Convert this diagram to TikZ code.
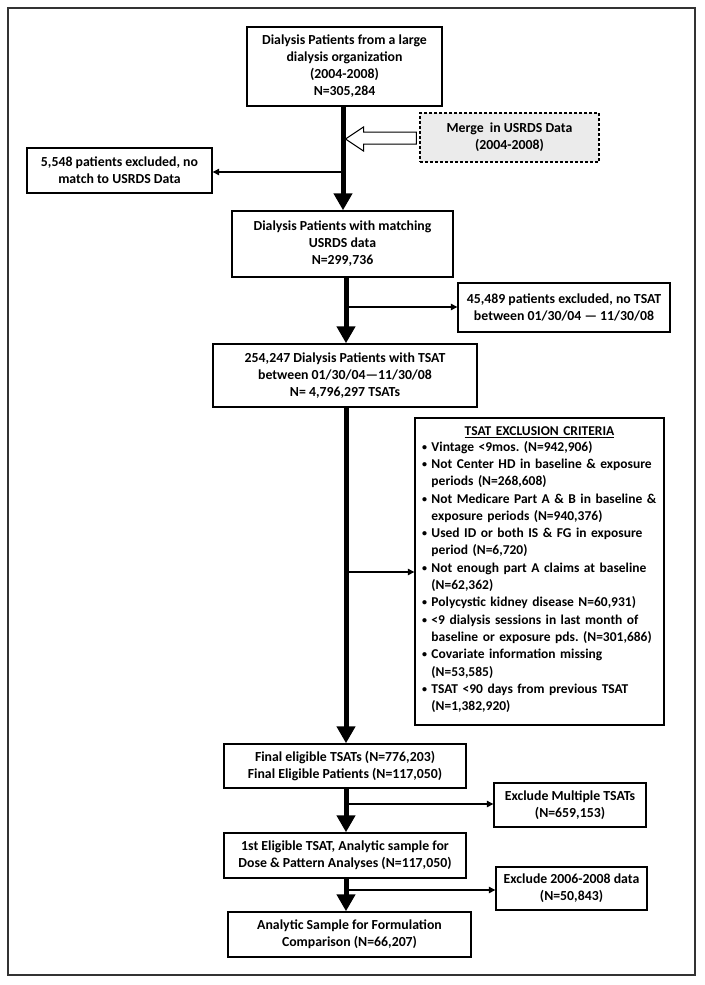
\documentclass[tikz,border=0pt]{standalone}
\usepackage{fontspec}
\setmainfont{Carlito}
\frenchspacing
\usetikzlibrary{arrows.meta,calc}
\newcommand{\bul}{\raisebox{0.15ex}{\fontsize{10}{10}\selectfont\textbullet}}
\tikzset{
  box/.style={draw, line width=1.4pt, align=center, inner sep=0pt, font=\bfseries\fontsize{13.8}{17}\selectfont},
  mergebox/.style={box, fill=black!8, dash pattern=on 3pt off 2pt, line width=1.2pt},
  shaft/.style={line width=5pt, -{Triangle[width=18pt,length=17pt]}},
  branch/.style={line width=1.2pt, -{Triangle[width=6.5pt,length=6.5pt]}},
  hollow/.style={draw, fill=white, line width=1pt, line join=miter},
}
\begin{document}
\begin{tikzpicture}[x=1pt,y=-1pt]
\useasboundingbox (0,0) rectangle (704,985);
\draw[black!80, line width=1.2pt] (8,8) rectangle (695,975);
% nodes
\node[box, minimum width=195pt, minimum height=79pt] (box1) at (344.5,66.5)
  {Dialysis Patients from a large\\dialysis organization\\(2004-2008)\\N=305,284};
\node[mergebox, minimum width=179pt, minimum height=49pt] (merge) at (509.5,137.5)
  {Merge\ \ in USRDS Data\\(2004-2008)};
\node[box, minimum width=185pt, minimum height=45pt] (exL) at (119.5,170.5)
  {5,548 patients excluded, no\\match to USRDS Data};
\node[box, minimum width=221pt, minimum height=66pt] (box2) at (342.5,244)
  {Dialysis Patients with matching\\USRDS data\\N=299,736};
\node[box, minimum width=212pt, minimum height=49pt] (ex2) at (564,307.5)
  {45,489 patients excluded, no TSAT\\between 01/30/04 — 11/30/08};
\node[box, minimum width=264pt, minimum height=63pt] (box3) at (345,375.5)
  {254,247 Dialysis Patients with TSAT\\between 01/30/04—11/30/08\\N= 4,796,297 TSATs};
\node[box, minimum width=249pt, minimum height=307pt, text width=243pt, align=left, font=\bfseries\fontsize{13.5}{17.3}\selectfont] (crit) at (539.5,571.5)
  {{\centering\underline{TSAT EXCLUSION CRITERIA}\par}\noindent
   \begin{tabular}{@{\hspace{4pt}}l@{\hspace{4.5pt}}l@{}}
   \bul & Vintage <9mos. (N=942,906)\\
   \bul & Not Center HD in baseline \& exposure\\
        & periods (N=268,608)\\
   \bul & Not Medicare Part A \& B in baseline \&\\
        & exposure periods (N=940,376)\\
   \bul & Used ID or both IS \& FG in exposure\\
        & period (N=6,720)\\
   \bul & Not enough part A claims at baseline\\
        & (N=62,362)\\
   \bul & Polycystic kidney disease N=60,931)\\
   \bul & <9 dialysis sessions in last month of\\
        & baseline or exposure pds. (N=301,686)\\
   \bul & Covariate information missing\\
        & (N=53,585)\\
   \bul & TSAT <90 days from previous TSAT\\
        & (N=1,382,920)
   \end{tabular}};
\node[box, minimum width=242pt, minimum height=44pt] (final) at (345,766)
  {Final eligible TSATs (N=776,203)\\Final Eligible Patients (N=117,050)};
\node[box, minimum width=152pt, minimum height=44pt] (exM) at (570,805)
  {Exclude Multiple TSATs\\(N=659,153)};
\node[box, minimum width=242pt, minimum height=45pt] (first) at (345,855.5)
  {1st Eligible TSAT, Analytic sample for\\Dose \& Pattern Analyses (N=117,050)};
\node[box, minimum width=151pt, minimum height=43pt] (ex3) at (571.5,888.5)
  {Exclude 2006-2008 data\\(N=50,843)};
\node[box, minimum width=243pt, minimum height=45pt] (anal) at (349.5,934.5)
  {Analytic Sample for Formulation\\Comparison (N=66,207)};
% shaft positions
\coordinate (s1) at (343,0);
\coordinate (s2) at (346,0);
% branch points
\coordinate (b1) at (343,172);
\coordinate (b2) at (346,307);
\coordinate (b3) at (346,572);
\coordinate (b4) at (346,804);
\coordinate (b5) at (346,890);
% branches (under shafts)
\draw[branch] (b1) -- (b1 -| exL.east);
\draw[branch] (b2) -- (b2 -| ex2.west);
\draw[branch] (b3) -- (b3 -| crit.west);
\draw[branch] (b4) -- (b4 -| exM.west);
\draw[branch] (b5) -- (b5 -| ex3.west);
% shafts
\draw[shaft] (box1.south -| s1) -- (box2.north -| s1);
\draw[shaft] (box2.south -| s2) -- (box3.north -| s2);
\draw[shaft] (box3.south -| s2) -- (final.north -| s2);
\draw[shaft] (final.south -| s2) -- (first.north -| s2);
\draw[shaft] (first.south -| s2) -- (anal.north -| s2);
% hollow merge arrow
\coordinate (ht) at (345.5,139);
\coordinate (he) at ($(merge.west)+(-3,0)$);
\draw[hollow] (ht) -- ++(18,-12) -- ++(0,5) -- (he |- 0,132) -- (he |- 0,144) -- (363.5,144) -- ++(0,7) -- cycle;
\end{tikzpicture}
\end{document}
